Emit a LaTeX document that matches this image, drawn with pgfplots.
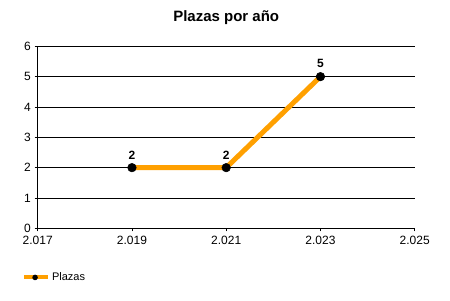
\documentclass[border=0pt]{standalone}
\usepackage{pgfplots}
\pgfplotsset{compat=1.18}
\usepackage{fontspec}
\setmainfont{Liberation Sans}
\definecolor{plorange}{RGB}{255,160,0}
\begin{document}
\begin{tikzpicture}[x=1bp,y=1bp]
\useasboundingbox (0,0) rectangle (450,300);
\begin{axis}[
  at={(37.7bp,71.7bp)}, anchor=south west,
  scale only axis, width=377bp, height=182bp,
  xmin=2017, xmax=2025, ymin=0, ymax=6,
  xtick={2017,2019,2021,2023,2025},
  xticklabels={2.017,2.019,2.021,2.023,2.025},
  ytick={0,1,2,3,4,5,6},
  axis lines=left,
  axis line style={-, black, line width=0.8bp},
  ymajorgrids, grid style={black, line width=0.8bp},
  tick align=outside, major tick length=3bp,
  tick style={black, line width=0.8bp},
  /pgf/number format/assume math mode=true,
  ticklabel style={font=\fontsize{12bp}{14bp}\selectfont},
  xticklabel style={yshift=-1bp},
  yticklabel style={xshift=-0.5bp},
  title={\textbf{Plazas por año}},
  title style={at={(0.5,1)}, anchor=center, yshift=23bp, font=\fontsize{15bp}{17bp}\selectfont},
  legend style={at={(-0.042,-0.27)}, anchor=west, draw=none, fill=none,
    font=\fontsize{11bp}{13bp}\selectfont, inner sep=0pt},
  legend cell align=left,
  legend image code/.code={
    \draw[plorange, line width=4bp] (0bp,0bp) -- (24bp,0bp);
    \path[fill=black, draw=none] (11bp,0bp) circle (2.8bp);
  },
  clip=false,
]
\addplot[plorange, line width=5bp, mark=*, mark size=4.3bp,
  mark options={solid, fill=black, draw=black, line width=0.5bp},
  nodes near coords,
  every node near coord/.style={text=black, font=\fontsize{12bp}{14bp}\selectfont\bfseries, yshift=5bp},
  point meta=explicit symbolic]
  table[meta=label] {
x y label
2019 2 2
2021 2 2
2023 5 5
};
\addlegendentry{Plazas}
\end{axis}
\end{tikzpicture}
\end{document}
